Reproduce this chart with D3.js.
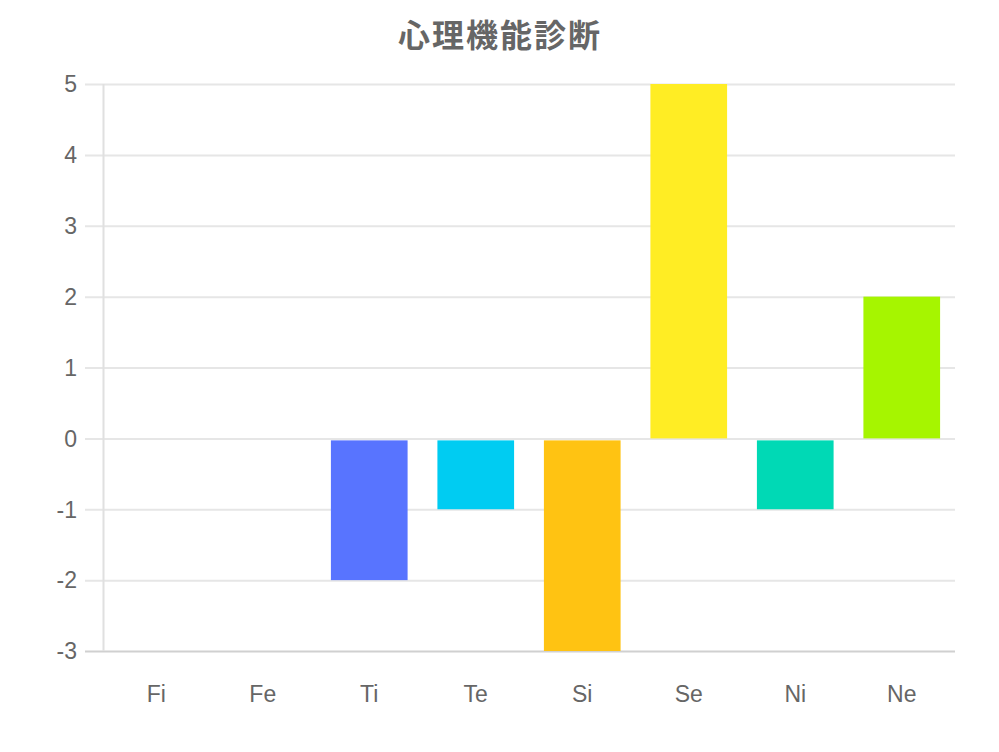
<!DOCTYPE html>
<html>
<head>
<meta charset="utf-8">
<script src="https://cdn.jsdelivr.net/npm/d3@7"></script>
<style>
  body { margin: 0; background: #fff; }
  text { font-family: "Liberation Sans", "Noto Sans CJK JP", sans-serif; }
</style>
</head>
<body>
<div id="vis"></div>
<script>
// chart data
var categories = ["Fi", "Fe", "Ti", "Te", "Si", "Se", "Ni", "Ne"];
var values     = [0, 0, -2, -1, -3, 5, -1, 2];
var barColors  = ["#ff6384", "#ff9f40", "#5874ff", "#00ccf2", "#ffc312", "#ffed24", "#00d9b5", "#a6f500"];
var yTicks     = [-3, -2, -1, 0, 1, 2, 3, 4, 5];
var title      = "心理機能診断";

var width = 999;
var height = 752;
var margin = { top: 84, left: 103, bottom: 752 - 651, right: 999 - 955 };
var innerW = width - margin.left - margin.right;
var innerH = height - margin.top - margin.bottom;

var svg = d3.select('#vis').append('svg')
	.attr('width', width)
	.attr('height', height);

var g = svg.append('g')
	.attr('transform', 'translate(' + margin.left + ',' + margin.top + ')');

var x = d3.scaleBand()
	.range([0, innerW])
	.paddingInner(0)
	.domain(categories);

var y = d3.scaleLinear()
	.range([innerH, 0])
	.domain([-3, 5]);

// title
svg.append('text')
	.attr('x', 500)
	.attr('y', 47)
	.attr('text-anchor', 'middle')
	.attr('fill', '#666')
	.style('font-family', '"Noto Sans CJK JP", sans-serif')
	.style('font-size', '32px')
	.style('letter-spacing', '2px')
	.style('font-weight', 'bold')
	.text(title);

// horizontal grid + tick marks
g.selectAll('.grid')
	.data(yTicks)
	.enter().append('line')
	.attr('class', 'grid')
	.attr('x1', -18)
	.attr('x2', innerW)
	.attr('y1', function (d) { return y(d) + 0.5; })
	.attr('y2', function (d) { return y(d) + 0.5; })
	.attr('stroke', function (d) { return d === -3 ? '#d0d0d0' : '#e6e6e6'; })
	.attr('stroke-width', 2);

// y axis line
g.append('line')
	.attr('x1', 0.5).attr('x2', 0.5)
	.attr('y1', 0).attr('y2', innerH)
	.attr('stroke', '#e0e0e0')
	.attr('stroke-width', 2);

// y tick labels
g.selectAll('.ylab')
	.data(yTicks)
	.enter().append('text')
	.attr('class', 'ylab')
	.attr('x', -26)
	.attr('y', function (d) { return y(d); })
	.attr('dy', '0.36em')
	.attr('text-anchor', 'end')
	.attr('fill', '#666')
	.style('font-size', '23px')
	.text(function (d) { return d; });

// x labels
g.selectAll('.xlab')
	.data(categories)
	.enter().append('text')
	.attr('class', 'xlab')
	.attr('x', function (d) { return x(d) + x.bandwidth() / 2; })
	.attr('y', innerH + 51)
	.attr('text-anchor', 'middle')
	.attr('fill', '#666')
	.style('font-size', '23px')
	.text(function (d) { return d; });

// bars
var barW = x.bandwidth() * 0.72;
g.selectAll('.bar')
	.data(values)
	.enter().append('rect')
	.attr('class', 'bar')
	.attr('x', function (d, i) { return x(categories[i]) + (x.bandwidth() - barW) / 2; })
	.attr('y', function (d) { return d >= 0 ? y(d) : y(0) + 2; })
	.attr('width', barW)
	.attr('height', function (d) { return d === 0 ? 0 : (d > 0 ? y(0) - y(d) : y(d) - y(0) - 2); })
	.attr('fill', function (d, i) { return barColors[i]; });
</script>
</body>
</html>
